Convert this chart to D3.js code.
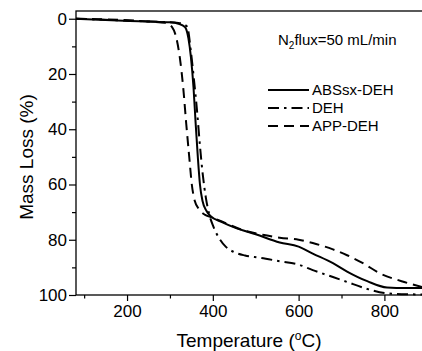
<!DOCTYPE html>
<html>
<head>
<meta charset="utf-8">
<script src="https://cdn.jsdelivr.net/npm/d3@7"></script>
<style>
  body { margin: 0; background: #fff; }
  text { font-family: "Liberation Sans", Arial, sans-serif; fill: #000; }
</style>
</head>
<body>
<svg id="chart" width="422" height="351"></svg>
<script>
// TGA curves (temperature in °C, mass loss in %)
const absTemp = [81, 150, 250, 300, 320, 335, 343, 349, 355, 360, 365, 370, 376, 385, 395, 420, 450, 500, 556, 600, 633, 680, 713, 760, 806, 850, 890];
const absLoss = [0, 0.5, 1.0, 1.3, 1.8, 3, 7, 14, 25, 38, 50, 60, 66, 69.5, 71.5, 73.5, 75.5, 78, 81, 82.5, 85, 88.5, 91.5, 95, 97.3, 97.5, 97.5];

const dehTemp = [81, 250, 320, 340, 349, 356, 363, 370, 377, 384, 392, 402, 415, 430, 450, 475, 510, 556, 600, 633, 680, 713, 760, 800, 840, 890];
const dehLoss = [0, 1, 1.5, 2.8, 12, 22, 33, 46, 57, 65, 71, 75.5, 79.5, 82.5, 84.5, 85.7, 86.5, 87.8, 89, 91, 93.5, 95.3, 97.8, 99.3, 99.7, 99.8];

const appTemp = [81, 250, 290, 305, 315, 323, 331, 338, 345, 351, 358, 368, 382, 400, 430, 470, 520, 556, 600, 633, 680, 713, 750, 790, 840, 890];
const appLoss = [0, 1, 1.5, 3, 7, 14, 25, 38, 50, 60, 66, 69, 71, 72, 74, 76.5, 78.3, 79.3, 80, 81.2, 83.5, 85.6, 88.5, 92.2, 95, 97.2];

const seriesNames = ["ABSsx-DEH", "DEH", "APP-DEH"];
const xMajor = [200, 400, 600, 800];
const xMinor = [100, 300, 500, 700];
const yMajor = [0, 20, 40, 60, 80, 100];
const yMinor = [10, 30, 50, 70, 90];

const series = [
  { name: seriesNames[0], x: absTemp, y: absLoss, dash: null },
  { name: seriesNames[1], x: dehTemp, y: dehLoss, dash: "11,5,2.5,5" },
  { name: seriesNames[2], x: appTemp, y: appLoss, dash: "10,6" }
];

const svg = d3.select("#chart");
const mLeft = 76, mTop = 11, mBottom = 295, mRight = 423;

const x = d3.scaleLinear().domain([81, 890]).range([mLeft, mRight]);
const y = d3.scaleLinear().domain([-2.8, 100]).range([mTop, mBottom]);

// frame
svg.append("rect")
  .attr("x", mLeft).attr("y", mTop)
  .attr("width", mRight - mLeft).attr("height", mBottom - mTop)
  .attr("fill", "none").attr("stroke", "#000").attr("stroke-width", 1.3);

// axes
svg.append("g").attr("transform", `translate(0,${mBottom})`)
  .call(d3.axisBottom(x).tickValues(xMajor).tickSize(6).tickPadding(4).tickFormat(d3.format("d")));
svg.append("g").attr("transform", `translate(0,${mBottom})`)
  .call(d3.axisBottom(x).tickValues(xMinor).tickSize(3.5).tickFormat(""));
svg.append("g").attr("transform", `translate(${mLeft},0)`)
  .call(d3.axisLeft(y).tickValues(yMajor).tickSize(7).tickPadding(2).tickFormat(d3.format("d")));
svg.append("g").attr("transform", `translate(${mLeft},0)`)
  .call(d3.axisLeft(y).tickValues(yMinor).tickSize(4).tickFormat(""));

svg.selectAll(".domain").remove();
svg.selectAll(".tick line").attr("stroke", "#000").attr("stroke-width", 1.2);
svg.selectAll(".tick text").style("font-size", "17px").style("font-family", "Liberation Sans, Arial, sans-serif");

// axis titles
svg.append("text")
  .attr("x", 249).attr("y", 347)
  .attr("text-anchor", "middle")
  .style("font-size", "19px")
  .html('Temperature (<tspan dy="-7" font-size="12">o</tspan><tspan dy="7">C)</tspan>');

svg.append("text")
  .attr("transform", "translate(33,157) rotate(-90)")
  .attr("text-anchor", "middle")
  .style("font-size", "19px")
  .text("Mass Loss (%)");

// curves
const line = d3.line()
  .x(d => x(d[0]))
  .y(d => y(d[1]))
  .curve(d3.curveMonotoneX);

svg.append("defs").append("clipPath").attr("id", "clip")
  .append("rect").attr("x", mLeft).attr("y", mTop).attr("width", mRight - mLeft).attr("height", mBottom - mTop + 2);

svg.append("g").attr("clip-path", "url(#clip)")
  .selectAll("path")
  .data(series)
  .join("path")
    .attr("d", s => line(s.x.map((t, i) => [t, s.y[i]])))
    .attr("fill", "none")
    .attr("stroke", "#000")
    .attr("stroke-width", 2)
    .attr("stroke-dasharray", s => s.dash);

// annotation
svg.append("text")
  .attr("x", 278).attr("y", 45)
  .style("font-size", "15px")
  .html('N<tspan dy="4" font-size="10">2</tspan><tspan dy="-4">flux=50 mL/min</tspan>');

// legend
const legend = svg.append("g").selectAll("g")
  .data(series)
  .join("g")
    .attr("transform", (d, i) => `translate(268,${90 + i * 18})`);
legend.append("line")
  .attr("x1", 0).attr("x2", 41)
  .attr("stroke", "#000").attr("stroke-width", 2)
  .attr("stroke-dasharray", d => d.dash);
legend.append("text")
  .attr("x", 44).attr("y", 0)
  .attr("dy", "0.35em")
  .style("font-size", "15px")
  .text(d => d.name);
</script>
</body>
</html>
